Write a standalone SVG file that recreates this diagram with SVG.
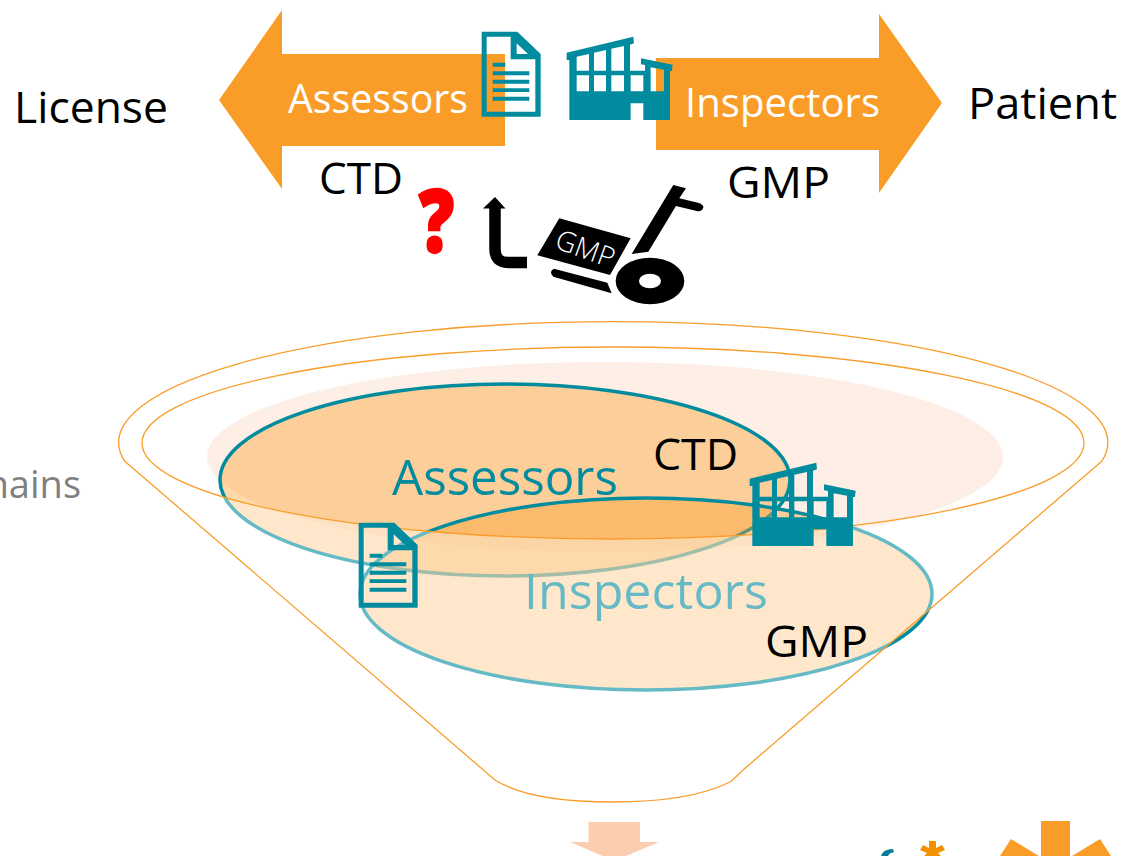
<svg xmlns="http://www.w3.org/2000/svg" width="1125" height="856" viewBox="0 0 1125 856">
<style>
text{font-family:"Open Sans","Noto Sans","Liberation Sans",sans-serif}
.orange{fill:#fa9d28}
.teal{fill:#008c9e}
.k{font-size:43px;fill:#000}
.w{font-size:40px;fill:#fff}
.t{font-size:50px}
.funnel{fill:#fff;fill-opacity:.4;fill-rule:evenodd;stroke:#f99d2a;stroke-width:1.3}
</style>
<defs>
<path id="factory" fill-rule="evenodd" d="M320,128L520,80L522,100L510,104L510,182L555,182L555,165L543,163L543,145L638,164L636,183L630,183L630,330L550,330L550,280L512,280L512,330L328,330L328,150L320,150Z
M350,140L387,132L387,182L350,182Z M402,128L438,120L438,182L402,182Z M454,116L492,108L492,182L454,182Z
M350,196H387V244H350Z M402,196H438V244H402Z M454,196H492V244H454Z M512,196H550V244H512Z M572,172L612,179V244H572Z"/>
<path id="doc" fill-rule="evenodd" d="M65,65L172,65L242,132L242,320L65,320Z M80,80L80,305L226,305L226,148L152,148L152,80Z M170,100L170,132L204,132Z
M98,158H136V170H98Z M98,184H208V196H98Z M98,209H208V221H98Z M98,235H208V246H98Z M98,260H208V272H98Z"/>
</defs>

<g id="arrow-assessors"><path class="orange" d="M219,100L282,10V54H505V146H282V189Z"/><text class="w" x="288" y="113" textLength="180" lengthAdjust="spacingAndGlyphs">Assessors</text></g>
<g id="arrow-inspectors"><path class="orange" d="M942,103L879,14V58H656V150H879V193Z"/><text class="w" x="685" y="117" textLength="195" lengthAdjust="spacingAndGlyphs">Inspectors</text></g>
<g id="doc-top"><use href="#doc" class="teal" transform="translate(460,10) scale(.3333)"/></g>
<g id="factory-top"><use href="#factory" class="teal" transform="translate(460,10) scale(.3333)"/></g>
<g id="labels-top">
<text class="k" x="14" y="123" textLength="154" lengthAdjust="spacingAndGlyphs">License</text>
<text class="k" x="968" y="119" textLength="149" lengthAdjust="spacingAndGlyphs">Patient</text>
<text class="k" x="319" y="194" textLength="84" lengthAdjust="spacingAndGlyphs">CTD</text>
<text class="k" x="727" y="198" textLength="103" lengthAdjust="spacingAndGlyphs">GMP</text>
<text x="419" y="252" font-size="87" font-weight="800" fill="#f00" stroke="#f00" stroke-width="2.500" textLength="35" lengthAdjust="spacingAndGlyphs">?</text>
</g>
<g id="connectors"><path d="M527,262.500H508Q495,262.500 495,249V208" fill="none" stroke="#000" stroke-width="11.500"/><path d="M495,197L505.500,208.500H483Z"/></g>
<g id="cart" transform="translate(400,170) scale(.3333)">
<path d="M478,145L692,205L630,315L412,256Z"/>
<path d="M462,296L622,338L635,370L460,320Q445,305 462,296Z"/>
<path fill-rule="evenodd" d="M647,333A103,70 0 1 0 853,333A103,70 0 1 0 647,333Z M717,333A33,22 0 1 1 783,333A33,22 0 1 1 717,333Z"/>
<path d="M820,45L858,55L838,85L900,100Q915,108 908,118Q902,126 890,123L828,108L745,245L695,252Z"/>
</g>
<text x="0" y="0" font-size="28" font-weight="300" fill="#fff" text-anchor="middle" transform="translate(582,258) rotate(20)">GMP</text>

<g id="pale-ellipse"><ellipse cx="605" cy="457" rx="398" ry="95" fill="#fdeee6"/></g>
<g id="ellipse-assessors"><ellipse cx="505" cy="480" rx="285" ry="96" fill="#fa9d28" fill-opacity=".4" stroke="#008c9e" stroke-width="3.500"/><text class="t teal" x="392" y="495" textLength="226" lengthAdjust="spacingAndGlyphs">Assessors</text></g>
<g id="ellipse-inspectors"><ellipse cx="646" cy="594" rx="286" ry="96" fill="#fa9d28" fill-opacity=".4" stroke="#008c9e" stroke-width="3.500"/><text class="t teal" x="524" y="609" textLength="244" lengthAdjust="spacingAndGlyphs">Inspectors</text></g>
<g id="funnel"><path class="funnel" d="M124.500,461A494.500,121 0 1 1 1102,461L743,770Q733,780 730,782Q690,802 612,802Q530,802 495,780Z M142,443A471,96 0 1 0 1084,443A471,96 0 1 0 142,443Z"/></g>
<g id="doc-low"><use href="#doc" class="teal" transform="translate(337,501) scale(.3333)"/></g>
<g id="factory-low"><use href="#factory" class="teal" transform="translate(643,436) scale(.3333)"/></g>
<g id="labels-low">
<text class="k" x="653" y="470" textLength="85" lengthAdjust="spacingAndGlyphs">CTD</text>
<text class="k" x="765" y="657" textLength="103" lengthAdjust="spacingAndGlyphs">GMP</text>
<text x="81" y="498" font-size="38" fill="#7f7f7f" text-anchor="end">mains</text>
</g>
<g id="arrow-down"><path d="M588.500,822H640V842H659L614,861L570,842H588.500Z" fill="#fdcdb0"/></g>
<g id="logo-fragments">
<path d="M881,856Q883,849 893,849L894,852Q889,853 888,856Z" fill="#0a7d96"/>
<path d="M929,841H936V848L942,845L945,850L938,853L941,856H924L927,853L920,850L923,845L929,848Z" fill="#f39200"/>
<path class="orange" d="M1041,821H1070V856H1041ZM1011,839L1039,856H1000ZM1100,839L1072,856H1111Z"/>
</g>
</svg>
